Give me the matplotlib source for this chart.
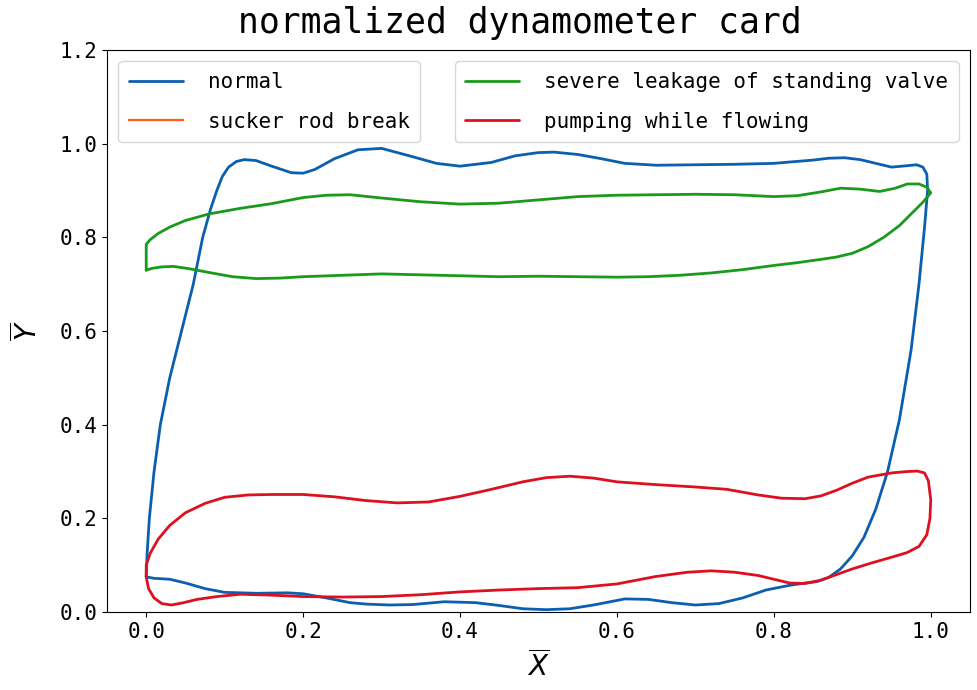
import matplotlib
matplotlib.use("Agg")
import matplotlib.pyplot as plt

# normal card (closed loop)
normal_x = [0.000, 0.010, 0.030, 0.050, 0.075, 0.100, 0.140, 0.180, 0.200, 0.230,
            0.260, 0.280, 0.310, 0.340, 0.380, 0.420, 0.450, 0.480, 0.510, 0.540,
            0.570, 0.610, 0.640, 0.670, 0.700, 0.730, 0.760, 0.790, 0.820, 0.840,
            0.855, 0.870, 0.885, 0.900, 0.915, 0.930, 0.945, 0.960, 0.975, 0.985,
            0.992, 0.996, 0.995, 0.990, 0.982, 0.970, 0.950, 0.930, 0.910, 0.890,
            0.870, 0.850, 0.800, 0.750, 0.700, 0.650, 0.610, 0.580, 0.550, 0.520,
            0.500, 0.470, 0.440, 0.400, 0.370, 0.340, 0.300, 0.270, 0.240, 0.215,
            0.200, 0.185, 0.160, 0.140, 0.125, 0.115, 0.105, 0.097, 0.090, 0.082,
            0.072, 0.060, 0.045, 0.030, 0.018, 0.010, 0.004, 0.001, 0.000]
normal_y = [0.075, 0.072, 0.070, 0.062, 0.050, 0.042, 0.040, 0.041, 0.039, 0.030,
            0.020, 0.017, 0.015, 0.016, 0.022, 0.020, 0.014, 0.007, 0.005, 0.007,
            0.015, 0.028, 0.027, 0.020, 0.015, 0.018, 0.030, 0.047, 0.057, 0.062,
            0.065, 0.074, 0.092, 0.120, 0.160, 0.220, 0.300, 0.410, 0.560, 0.700,
            0.820, 0.900, 0.935, 0.950, 0.955, 0.953, 0.950, 0.958, 0.966, 0.970,
            0.969, 0.965, 0.958, 0.956, 0.955, 0.954, 0.958, 0.968, 0.977, 0.982,
            0.981, 0.974, 0.960, 0.952, 0.958, 0.972, 0.990, 0.987, 0.968, 0.945,
            0.937, 0.938, 0.952, 0.964, 0.966, 0.962, 0.950, 0.930, 0.900, 0.860,
            0.800, 0.700, 0.600, 0.500, 0.400, 0.300, 0.200, 0.120, 0.075]

# sucker rod break: not visible inside the plotted area
rod_x = []
rod_y = []

# severe leakage of standing valve
leak_x = [0.000, 0.000, 0.005, 0.015, 0.030, 0.050, 0.080, 0.120, 0.160, 0.200,
          0.230, 0.260, 0.300, 0.350, 0.400, 0.450, 0.500, 0.550, 0.600, 0.650,
          0.700, 0.750, 0.800, 0.830, 0.860, 0.885, 0.910, 0.935, 0.955, 0.970,
          0.985, 0.995, 1.000, 0.990, 0.975, 0.960, 0.940, 0.920, 0.900, 0.880,
          0.860, 0.830, 0.800, 0.760, 0.720, 0.680, 0.640, 0.600, 0.550, 0.500,
          0.450, 0.400, 0.350, 0.300, 0.250, 0.200, 0.170, 0.140, 0.110, 0.080,
          0.055, 0.035, 0.020, 0.008, 0.002, 0.000]
leak_y = [0.730, 0.785, 0.795, 0.808, 0.822, 0.836, 0.850, 0.862, 0.872, 0.885,
          0.890, 0.891, 0.884, 0.876, 0.871, 0.873, 0.880, 0.887, 0.890, 0.891,
          0.892, 0.891, 0.887, 0.889, 0.897, 0.905, 0.903, 0.898, 0.905, 0.914,
          0.914, 0.907, 0.895, 0.875, 0.850, 0.825, 0.800, 0.780, 0.766, 0.758,
          0.753, 0.746, 0.740, 0.731, 0.724, 0.719, 0.716, 0.715, 0.716, 0.717,
          0.716, 0.718, 0.720, 0.722, 0.719, 0.716, 0.713, 0.712, 0.716, 0.725,
          0.733, 0.738, 0.737, 0.734, 0.731, 0.730]

# pumping while flowing
flow_x = [0.000, 0.005, 0.015, 0.030, 0.050, 0.075, 0.100, 0.130, 0.160, 0.200,
          0.240, 0.280, 0.320, 0.360, 0.400, 0.440, 0.480, 0.510, 0.540, 0.570,
          0.600, 0.650, 0.700, 0.740, 0.780, 0.810, 0.840, 0.860, 0.880, 0.900,
          0.920, 0.950, 0.970, 0.983, 0.992, 0.997, 1.000, 0.999, 0.995, 0.985,
          0.970, 0.950, 0.925, 0.900, 0.880, 0.860, 0.840, 0.820, 0.800, 0.780,
          0.750, 0.720, 0.690, 0.650, 0.600, 0.550, 0.500, 0.450, 0.400, 0.350,
          0.300, 0.250, 0.200, 0.160, 0.120, 0.090, 0.065, 0.045, 0.032, 0.020,
          0.010, 0.003, 0.000, 0.000]
flow_y = [0.100, 0.125, 0.155, 0.185, 0.212, 0.232, 0.245, 0.250, 0.251, 0.251,
          0.246, 0.238, 0.233, 0.235, 0.247, 0.262, 0.278, 0.287, 0.290, 0.286,
          0.278, 0.272, 0.267, 0.262, 0.250, 0.243, 0.242, 0.248, 0.260, 0.275,
          0.288, 0.297, 0.300, 0.301, 0.297, 0.280, 0.240, 0.200, 0.165, 0.140,
          0.127, 0.117, 0.105, 0.092, 0.080, 0.068, 0.061, 0.062, 0.070, 0.078,
          0.085, 0.088, 0.085, 0.076, 0.060, 0.052, 0.050, 0.047, 0.043, 0.037,
          0.033, 0.032, 0.033, 0.036, 0.038, 0.033, 0.027, 0.019, 0.015, 0.018,
          0.030, 0.050, 0.075, 0.100]

mono = "DejaVu Sans Mono"

fig = plt.figure(figsize=(9.77, 6.90), dpi=100)
ax = fig.add_axes([0.1095, 0.113, 0.8833, 0.8145])

line_kw = dict(lw=2.0, solid_joinstyle="round", solid_capstyle="round")
l_normal, = ax.plot(normal_x, normal_y, color="#0b5fb0", label="normal", **line_kw)
l_rod, = ax.plot(rod_x, rod_y, color="#ff6010", lw=1.6, label="sucker rod break")
l_leak, = ax.plot(leak_x, leak_y, color="#1a9a1a",
                  label="severe leakage of standing valve", **line_kw)
l_flow, = ax.plot(flow_x, flow_y, color="#dd1020",
                  label="pumping while flowing", **line_kw)

ax.set_xlim(-0.05, 1.05)
ax.set_ylim(0, 1.2)
ax.set_xticks([0.0, 0.2, 0.4, 0.6, 0.8, 1.0])
ax.set_yticks([0.0, 0.2, 0.4, 0.6, 0.8, 1.0, 1.2])
for lab in ax.get_xticklabels() + ax.get_yticklabels():
    lab.set_fontfamily(mono)
    lab.set_fontsize(15)

ax.set_title("normalized dynamometer card", fontfamily=mono, fontsize=25,
             pad=12, x=0.478)
ax.set_xlabel(r"$\overline{X}$", fontsize=20, labelpad=6)
ax.set_ylabel(r"$\overline{Y}$", fontsize=20, labelpad=12)

leg_font = {"family": mono, "size": 15}
leg_kw = dict(prop=leg_font, handlelength=2.6, handletextpad=1.2,
              labelspacing=0.95, borderaxespad=0.55, borderpad=0.5)
leg1 = ax.legend(handles=[l_normal, l_rod], loc="upper left", **leg_kw)
ax.add_artist(leg1)
ax.legend(handles=[l_leak, l_flow], loc="upper right", **leg_kw)

fig.savefig("out.png", dpi=100, facecolor="white")
